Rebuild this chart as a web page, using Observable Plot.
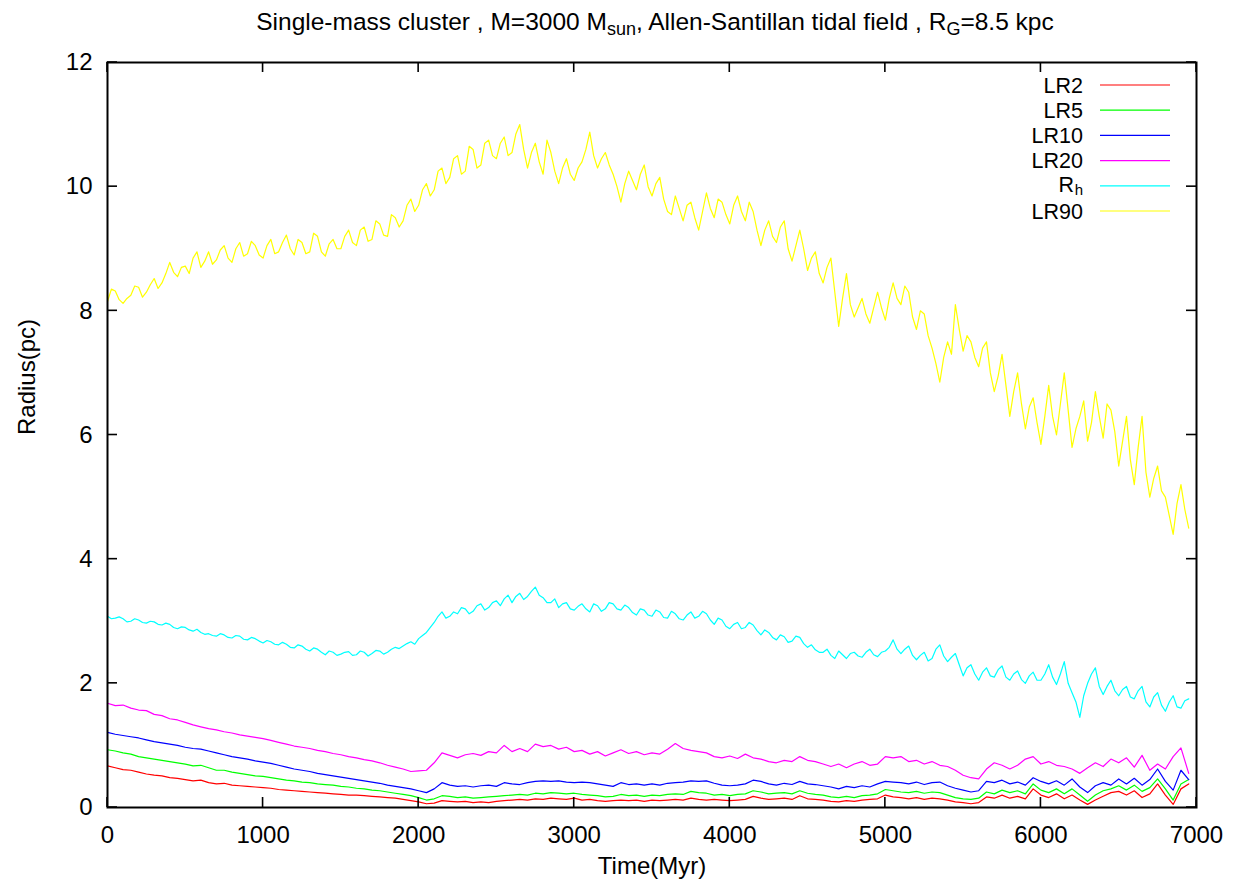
<!DOCTYPE html>
<html><head><meta charset="utf-8">
<script src="https://cdn.jsdelivr.net/npm/d3@7"></script>
<script src="https://cdn.jsdelivr.net/npm/@observablehq/plot@0.6"></script>
<style>
body{margin:0;background:#fff;font-family:"Liberation Sans",Arial,Helvetica,sans-serif;}
#wrap{position:relative;width:1242px;height:885px;overflow:hidden;}
#title{position:absolute;left:114px;width:1082px;top:9px;height:30px;text-align:center;font-size:24.5px;line-height:26px;color:#000;white-space:nowrap;}
#title sub{font-size:18px;vertical-align:-5px;line-height:0;}
#chart{position:absolute;top:44px;left:0;}
</style>
</head><body>
<div id="wrap">
<div id="title">Single-mass cluster , M=3000 M<sub>sun</sub>, Allen-Santillan tidal field , R<sub>G</sub>=8.5 kpc</div>
<div id="chart"></div>
</div>
<script>
// Time (Myr) sample points for the inner Lagrangian radii
const T = [
0,50,100,150,200,250,300,350,400,450,
500,550,600,650,700,750,800,850,900,950,
1000,1050,1100,1150,1200,1250,1300,1350,1400,1450,
1500,1550,1600,1650,1700,1750,1800,1850,1900,1950,
2000,2050,2100,2150,2200,2250,2300,2350,2400,2450,
2500,2550,2600,2650,2700,2750,2800,2850,2900,2950,
3000,3050,3100,3150,3200,3250,3300,3350,3400,3450,
3500,3550,3600,3650,3700,3750,3800,3850,3900,3950,
4000,4050,4100,4150,4200,4250,4300,4350,4400,4450,
4500,4550,4600,4650,4700,4750,4800,4850,4900,4950,
5000,5050,5100,5150,5200,5250,5300,5350,5400,5450,
5500,5550,5600,5650,5700,5750,5800,5850,5900,5950,
6000,6050,6100,6150,6200,6250,6300,6350,6400,6450,
6500,6550,6600,6650,6700,6750,6800,6850,6900,6950];

// Finer time sampling for the noisier R_h and LR90 curves
const TF = [
0,25,50,75,100,125,150,175,200,225,250,275,300,325,350,375,400,425,450,475,
500,525,550,575,600,625,650,675,700,725,750,775,800,825,850,875,900,925,950,975,
1000,1025,1050,1075,1100,1125,1150,1175,1200,1225,1250,1275,1300,1325,1350,1375,1400,1425,1450,1475,
1500,1525,1550,1575,1600,1625,1650,1675,1700,1725,1750,1775,1800,1825,1850,1875,1900,1925,1950,1975,
2000,2025,2050,2075,2100,2125,2150,2175,2200,2225,2250,2275,2300,2325,2350,2375,2400,2425,2450,2475,
2500,2525,2550,2575,2600,2625,2650,2675,2700,2725,2750,2775,2800,2825,2850,2875,2900,2925,2950,2975,
3000,3025,3050,3075,3100,3125,3150,3175,3200,3225,3250,3275,3300,3325,3350,3375,3400,3425,3450,3475,
3500,3525,3550,3575,3600,3625,3650,3675,3700,3725,3750,3775,3800,3825,3850,3875,3900,3925,3950,3975,
4000,4025,4050,4075,4100,4125,4150,4175,4200,4225,4250,4275,4300,4325,4350,4375,4400,4425,4450,4475,
4500,4525,4550,4575,4600,4625,4650,4675,4700,4725,4750,4775,4800,4825,4850,4875,4900,4925,4950,4975,
5000,5025,5050,5075,5100,5125,5150,5175,5200,5225,5250,5275,5300,5325,5350,5375,5400,5425,5450,5475,
5500,5525,5550,5575,5600,5625,5650,5675,5700,5725,5750,5775,5800,5825,5850,5875,5900,5925,5950,5975,
6000,6025,6050,6075,6100,6125,6150,6175,6200,6225,6250,6275,6300,6325,6350,6375,6400,6425,6450,6475,
6500,6525,6550,6575,6600,6625,6650,6675,6700,6725,6750,6775,6800,6825,6850,6875,6900,6925,6950];

const LR2 = [
0.67,0.64,0.61,0.6,0.57,0.54,0.52,0.51,0.48,0.47,
0.45,0.43,0.44,0.4,0.38,0.39,0.36,0.35,0.34,0.33,
0.32,0.31,0.29,0.28,0.27,0.26,0.25,0.24,0.23,0.22,
0.21,0.2,0.2,0.19,0.18,0.17,0.16,0.15,0.13,0.11,
0.09,0.06,0.07,0.11,0.1,0.09,0.1,0.08,0.09,0.08,
0.1,0.11,0.12,0.13,0.12,0.14,0.13,0.15,0.14,0.13,
0.15,0.12,0.13,0.11,0.1,0.11,0.12,0.11,0.12,0.1,
0.12,0.11,0.12,0.13,0.12,0.15,0.13,0.12,0.13,0.12,
0.11,0.12,0.13,0.18,0.15,0.13,0.14,0.15,0.13,0.19,
0.14,0.13,0.12,0.1,0.09,0.11,0.1,0.12,0.13,0.14,
0.2,0.17,0.16,0.14,0.16,0.13,0.15,0.14,0.12,0.09,
0.08,0.06,0.08,0.17,0.15,0.2,0.15,0.18,0.14,0.3,
0.2,0.16,0.22,0.14,0.2,0.12,0.05,0.12,0.18,0.24,
0.26,0.2,0.27,0.16,0.22,0.38,0.2,0.05,0.3,0.38];

const LR5 = [
0.93,0.91,0.88,0.86,0.82,0.8,0.78,0.76,0.74,0.72,
0.7,0.67,0.68,0.64,0.6,0.6,0.57,0.55,0.53,0.51,
0.5,0.48,0.46,0.44,0.43,0.41,0.4,0.38,0.37,0.36,
0.34,0.33,0.31,0.3,0.28,0.27,0.25,0.23,0.21,0.19,
0.16,0.12,0.14,0.19,0.18,0.16,0.17,0.15,0.16,0.17,
0.18,0.19,0.2,0.21,0.2,0.23,0.22,0.24,0.23,0.22,
0.23,0.21,0.2,0.19,0.17,0.18,0.21,0.19,0.2,0.18,
0.2,0.19,0.21,0.22,0.21,0.26,0.24,0.23,0.2,0.21,
0.19,0.21,0.22,0.27,0.25,0.22,0.23,0.24,0.22,0.27,
0.23,0.21,0.2,0.17,0.16,0.18,0.16,0.19,0.2,0.22,
0.29,0.27,0.25,0.24,0.26,0.23,0.25,0.24,0.2,0.16,
0.14,0.13,0.15,0.25,0.22,0.28,0.24,0.27,0.22,0.38,
0.28,0.24,0.3,0.22,0.3,0.2,0.1,0.2,0.27,0.3,
0.35,0.28,0.36,0.26,0.32,0.46,0.3,0.12,0.38,0.45];

const LR10 = [
1.21,1.18,1.16,1.14,1.12,1.09,1.06,1.04,1.02,1.0,
0.97,0.95,0.94,0.91,0.88,0.85,0.82,0.8,0.78,0.75,
0.73,0.71,0.68,0.65,0.62,0.6,0.58,0.55,0.53,0.51,
0.49,0.47,0.45,0.43,0.41,0.39,0.36,0.34,0.32,0.3,
0.27,0.24,0.3,0.4,0.36,0.34,0.35,0.33,0.35,0.36,
0.34,0.4,0.38,0.37,0.4,0.42,0.43,0.42,0.43,0.41,
0.4,0.41,0.4,0.38,0.36,0.34,0.4,0.37,0.38,0.36,
0.38,0.36,0.39,0.4,0.41,0.43,0.42,0.43,0.39,0.36,
0.35,0.36,0.38,0.44,0.42,0.38,0.36,0.39,0.37,0.42,
0.38,0.37,0.35,0.33,0.3,0.34,0.32,0.35,0.33,0.38,
0.42,0.41,0.4,0.38,0.41,0.37,0.4,0.41,0.35,0.31,
0.28,0.25,0.27,0.42,0.4,0.44,0.38,0.41,0.36,0.48,
0.42,0.38,0.43,0.36,0.46,0.33,0.24,0.35,0.4,0.36,
0.46,0.38,0.47,0.36,0.45,0.62,0.42,0.28,0.6,0.45];

const LR20 = [
1.68,1.64,1.65,1.6,1.57,1.56,1.5,1.48,1.43,1.41,
1.37,1.33,1.3,1.27,1.25,1.22,1.2,1.17,1.15,1.13,
1.11,1.08,1.05,1.02,0.99,0.97,0.95,0.92,0.9,0.87,
0.85,0.82,0.8,0.77,0.75,0.72,0.68,0.65,0.62,0.58,
0.59,0.6,0.72,0.88,0.84,0.8,0.85,0.87,0.84,0.9,
0.88,1.0,0.9,0.95,0.9,1.02,0.98,1.0,0.94,0.97,
0.9,0.92,0.86,0.9,0.83,0.88,0.93,0.87,0.9,0.85,
0.88,0.86,0.94,1.03,0.95,0.92,0.9,0.88,0.82,0.8,
0.83,0.79,0.86,0.8,0.78,0.74,0.72,0.76,0.74,0.82,
0.76,0.74,0.7,0.66,0.7,0.64,0.7,0.74,0.68,0.7,
0.82,0.8,0.82,0.74,0.76,0.7,0.74,0.68,0.66,0.6,
0.52,0.48,0.46,0.62,0.72,0.68,0.62,0.68,0.78,0.82,
0.7,0.74,0.68,0.66,0.62,0.55,0.64,0.72,0.66,0.78,
0.72,0.8,0.65,0.84,0.6,0.7,0.62,0.82,0.96,0.55];

const RH = [
3.08,3.04,3.05,3.07,3.04,2.99,3.0,3.04,3.02,2.98,2.97,3.0,2.99,2.95,2.94,2.97,2.95,2.9,2.88,2.91,
2.9,2.86,2.84,2.87,2.82,2.79,2.8,2.77,2.76,2.8,2.78,2.74,2.73,2.77,2.76,2.71,2.7,2.74,2.72,2.68,
2.65,2.69,2.67,2.63,2.62,2.66,2.63,2.58,2.57,2.62,2.6,2.55,2.52,2.57,2.55,2.5,2.46,2.52,2.5,2.45,
2.47,2.5,2.51,2.45,2.46,2.52,2.5,2.44,2.48,2.53,2.52,2.47,2.5,2.55,2.58,2.56,2.6,2.64,2.67,2.63,
2.72,2.77,2.82,2.9,2.98,3.08,3.15,3.05,3.08,3.15,3.12,3.22,3.2,3.12,3.16,3.25,3.28,3.18,3.22,3.3,
3.33,3.25,3.36,3.42,3.3,3.4,3.45,3.35,3.4,3.48,3.55,3.42,3.38,3.3,3.3,3.36,3.22,3.28,3.3,3.2,
3.18,3.24,3.28,3.2,3.15,3.28,3.25,3.16,3.2,3.3,3.28,3.2,3.18,3.26,3.22,3.14,3.1,3.2,3.18,3.1,
3.08,3.18,3.15,3.06,3.05,3.16,3.12,3.04,3.02,3.1,3.15,3.05,3.08,3.16,3.12,3.02,2.95,3.05,3.02,2.92,
2.88,2.95,2.98,2.88,2.9,2.98,2.94,2.85,2.78,2.86,2.82,2.74,2.7,2.78,2.75,2.66,2.68,2.76,2.74,2.64,
2.58,2.62,2.54,2.5,2.5,2.55,2.45,2.4,2.52,2.46,2.4,2.48,2.5,2.44,2.42,2.5,2.55,2.46,2.43,2.5,
2.52,2.58,2.7,2.55,2.48,2.55,2.6,2.45,2.38,2.45,2.5,2.36,2.4,2.55,2.62,2.44,2.35,2.42,2.48,2.3,
2.12,2.25,2.3,2.15,2.05,2.18,2.25,2.12,2.1,2.22,2.28,2.1,2.05,2.15,2.2,2.06,2.0,2.12,2.18,2.05,
2.05,2.15,2.3,2.1,1.98,2.15,2.35,2.0,1.85,1.7,1.45,1.8,2.0,2.15,2.25,1.95,1.82,1.95,2.05,1.88,
1.8,1.9,1.95,1.78,1.75,1.88,1.95,1.7,1.62,1.78,1.85,1.65,1.55,1.7,1.8,1.62,1.6,1.72,1.75];

const LR90 = [
8.15,8.35,8.32,8.18,8.12,8.2,8.25,8.4,8.38,8.22,8.3,8.42,8.52,8.36,8.45,8.6,8.78,8.62,8.55,8.7,
8.72,8.6,8.85,8.95,8.7,8.8,8.95,8.75,8.82,8.98,9.05,8.85,8.78,9.0,9.1,8.88,8.92,9.12,9.05,8.9,
8.85,9.05,9.15,8.92,8.95,9.1,9.22,9.0,8.9,9.15,9.1,8.92,8.95,9.25,9.2,8.95,8.88,9.08,9.15,9.0,
9.0,9.2,9.3,9.1,9.05,9.3,9.35,9.12,9.15,9.45,9.4,9.22,9.2,9.55,9.5,9.35,9.45,9.7,9.8,9.6,
9.7,9.95,10.05,9.85,9.95,10.25,10.3,10.05,10.15,10.45,10.5,10.2,10.25,10.65,10.6,10.3,10.35,10.7,10.75,10.5,
10.45,10.7,10.8,10.5,10.55,10.85,11.0,10.6,10.3,10.55,10.7,10.4,10.2,10.75,10.55,10.25,10.05,10.3,10.45,10.2,
10.1,10.3,10.4,10.6,10.88,10.5,10.3,10.45,10.55,10.35,10.2,10.0,9.75,10.05,10.25,10.1,9.95,10.2,10.35,10.0,
9.85,10.05,10.15,9.8,9.6,9.55,9.85,9.65,9.45,9.7,9.75,9.5,9.3,9.6,9.9,9.65,9.5,9.8,9.75,9.55,
9.4,9.7,9.85,9.6,9.45,9.75,9.6,9.3,9.05,9.3,9.45,9.2,9.1,9.35,9.45,9.0,8.8,9.05,9.3,9.0,
8.65,8.85,8.95,8.6,8.45,8.7,8.85,8.3,7.75,8.2,8.6,8.1,7.9,8.05,8.2,7.95,7.8,8.05,8.3,8.05,
7.85,8.2,8.45,8.2,8.1,8.4,8.3,7.9,7.7,8.0,7.95,7.6,7.4,7.15,6.85,7.25,7.5,7.3,8.1,7.7,
7.35,7.6,7.5,7.25,7.1,7.4,7.5,7.0,6.7,6.95,7.3,6.8,6.3,6.7,7.0,6.5,6.1,6.45,6.6,6.2,
5.85,6.3,6.8,6.3,6.0,6.5,7.0,6.4,5.8,6.1,6.3,6.55,5.9,6.2,6.7,6.3,5.95,6.5,6.4,6.05,
5.5,5.9,6.3,5.6,5.2,5.8,6.3,5.4,5.0,5.3,5.5,5.1,5.0,4.7,4.4,4.9,5.2,4.8,4.5];

const seriesNames = ["LR2", "LR5", "LR10", "LR20", "Rh", "LR90"];
const seriesColors = ["#ff0000", "#00ff00", "#0000ff", "#ff00ff", "#00ffff", "#ffff00"];
const seriesValues = [LR2, LR5, LR10, LR20, RH, LR90];
const seriesTimes = [T, T, T, T, TF, TF];
const xTicks = [0, 1000, 2000, 3000, 4000, 5000, 6000, 7000];
const yTicks = [0, 2, 4, 6, 8, 10, 12];

const rows = [];
seriesNames.forEach((name, s) => {
  seriesTimes[s].forEach((t, i) => {
    const v = seriesValues[s][i];
    if (v !== undefined) rows.push({series: name, t, v});
  });
});

// gnuplot-style inward ticks on all four sides, placed with Plot's scales
function innerTicks(index, scales, values, dims) {
  const {x, y} = scales;
  const top = dims.marginTop, bottom = dims.height - dims.marginBottom;
  const left = dims.marginLeft, right = dims.width - dims.marginRight;
  const len = 10;
  const g = d3.create("svg:g").attr("stroke", "black").attr("stroke-width", 1.6);
  for (const t of xTicks) {
    const px = x(t);
    g.append("line").attr("x1", px).attr("x2", px).attr("y1", bottom).attr("y2", bottom - len);
    g.append("line").attr("x1", px).attr("x2", px).attr("y1", top).attr("y2", top + len);
  }
  for (const v of yTicks) {
    const py = y(v);
    g.append("line").attr("y1", py).attr("y2", py).attr("x1", left).attr("x2", left + len);
    g.append("line").attr("y1", py).attr("y2", py).attr("x1", right).attr("x2", right - len);
  }
  return g.node();
}

// gnuplot-style key in the top-right corner of the frame
function legendMark(index, scales, values, dims) {
  const top = dims.marginTop, right = dims.width - dims.marginRight;
  const g = d3.create("svg:g").attr("fill", "black");
  const tx = right - 113;
  seriesNames.forEach((name, i) => {
    const cy = top + 23 + i * 25.2;
    if (name === "Rh") {
      g.append("text").attr("x", tx - 9).attr("y", cy - 1).attr("dy", "0.35em")
        .attr("text-anchor", "end").attr("font-size", 21.5).text("R");
      g.append("text").attr("x", tx).attr("y", cy + 4).attr("dy", "0.35em")
        .attr("text-anchor", "end").attr("font-size", 15).text("h");
    } else {
      g.append("text").attr("x", tx).attr("y", cy).attr("dy", "0.35em")
        .attr("text-anchor", "end").attr("font-size", 21.5).text(name);
    }
    g.append("line")
      .attr("x1", right - 96).attr("x2", right - 26)
      .attr("y1", cy).attr("y2", cy)
      .attr("stroke", seriesColors[i]).attr("stroke-width", 1.2);
  });
  return g.node();
}

const chart = Plot.plot({
  width: 1242,
  height: 841,
  marginTop: 18,
  marginBottom: 78,
  marginLeft: 107,
  marginRight: 46,
  style: {fontFamily: "'Liberation Sans', Arial, Helvetica, sans-serif", fontSize: "24px", background: "white", color: "black"},
  x: {domain: [0, 7000]},
  y: {domain: [0, 12]},
  color: {domain: seriesNames, range: seriesColors},
  marks: [
    Plot.line(rows, {x: "t", y: "v", z: "series", stroke: "series", strokeWidth: 1.2}),
    Plot.frame({stroke: "black", strokeWidth: 2}),
    innerTicks,
    Plot.axisX({ticks: xTicks, tickSize: 0, tickPadding: 18, tickFormat: d => `${d}`, label: null, fontSize: 24}),
    Plot.axisY({ticks: yTicks, tickSize: 0, tickPadding: 15, tickFormat: d => `${d}`, label: null, fontSize: 24}),
    Plot.text(["Time(Myr)"], {frameAnchor: "bottom", dy: 66, fontSize: 24, fill: "black"}),
    Plot.text(["Radius(pc)"], {frameAnchor: "left", dx: -80, rotate: -90, fontSize: 24, fill: "black"}),
    legendMark
  ]
});
document.getElementById("chart").appendChild(chart);
</script>
</body></html>
